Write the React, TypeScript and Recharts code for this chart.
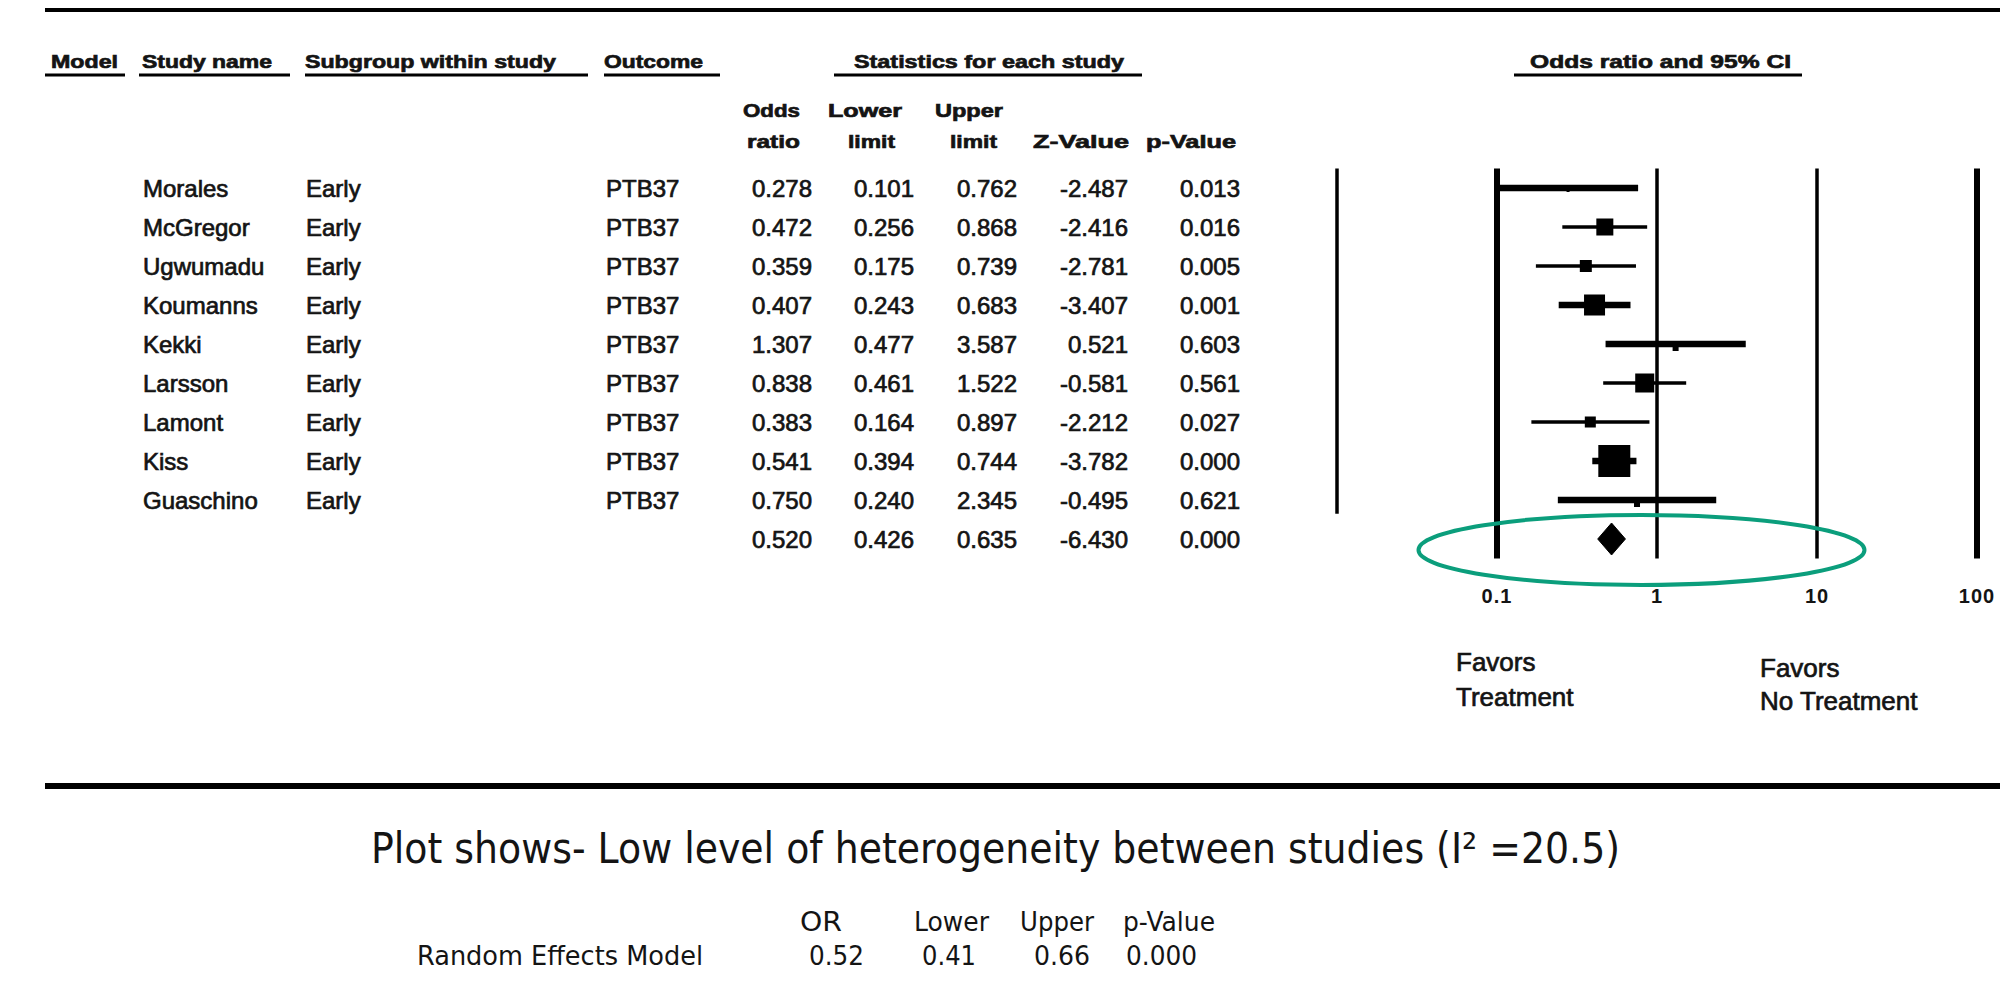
import React from "react";
import { ScatterChart, Scatter, XAxis, YAxis, ReferenceLine, ReferenceDot } from "recharts";

const studyNames = ["Morales", "McGregor", "Ugwumadu", "Koumanns", "Kekki", "Larsson", "Lamont", "Kiss", "Guaschino"];
const subgroups = ["Early", "Early", "Early", "Early", "Early", "Early", "Early", "Early", "Early"];
const outcomes = ["PTB37", "PTB37", "PTB37", "PTB37", "PTB37", "PTB37", "PTB37", "PTB37", "PTB37"];
const oddsRatios = [0.278, 0.472, 0.359, 0.407, 1.307, 0.838, 0.383, 0.541, 0.75];
const lowerLimits = [0.101, 0.256, 0.175, 0.243, 0.477, 0.461, 0.164, 0.394, 0.24];
const upperLimits = [0.762, 0.868, 0.739, 0.683, 3.587, 1.522, 0.897, 0.744, 2.345];
const zValues = [-2.487, -2.416, -2.781, -3.407, 0.521, -0.581, -2.212, -3.782, -0.495];
const pValues = [0.013, 0.016, 0.005, 0.001, 0.603, 0.561, 0.027, 0.0, 0.621];
// box size in px ~ study weight
const boxSizes = [3, 17, 12, 21, 6, 19, 11, 32, 6];
const thickLines = [true, false, false, true, true, false, false, true, true];

const summary = { or: 0.52, lower: 0.426, upper: 0.635, z: -6.43, p: 0.0 };

const axisTicks = [0.1, 1, 10, 100];
const gridLines = [0.01, 0.1, 1, 10, 100];
const gridWidths = [3.5, 6, 3.5, 3.5, 6];

const randomModel = { or: "0.52", lower: "0.41", upper: "0.66", p: "0.000" };

const SANS = "'Liberation Sans', Arial, sans-serif";
const TAHOMA = "'DejaVu Sans', Verdana, sans-serif";
const INK = "#141414";

const rowY = (i: number) => 188 + i * 39 + 8.5;

function Txt({ x, y, w, size = 24, bold = false, anchor = "start", family = SANS, heavy = true, children }: any) {
  return (
    <text
      x={x}
      y={y}
      fontSize={size}
      fontWeight={bold ? 700 : 400}
      fontFamily={family}
      textAnchor={anchor}
      textLength={w}
      lengthAdjust={w ? "spacingAndGlyphs" : undefined}
      fill={INK}
      stroke={heavy ? INK : "none"}
      strokeWidth={heavy ? 0.7 : 0}
    >
      {children}
    </text>
  );
}

const AxisTick = (props: any) => {
  const { x, y, payload } = props;
  return (
    <text x={x} y={y + 44} textAnchor="middle" fontSize={20} fontWeight={700} fontFamily={SANS} letterSpacing={1} fill={INK}>
      {payload.value}
    </text>
  );
};

const boxData = studyNames.map((name, i) => ({ name, x: oddsRatios[i], y: i, box: boxSizes[i] }));
const diamondHalf = 0.41;
const diamondData = [
  { x: summary.lower, y: 9 },
  { x: summary.or, y: 9 - diamondHalf },
  { x: summary.upper, y: 9 },
  { x: summary.or, y: 9 + diamondHalf },
];

const headers = [
  { label: "Model", x: 51, w: 67, ul: [45, 125] },
  { label: "Study name", x: 142, w: 130, ul: [139, 290] },
  { label: "Subgroup within study", x: 305, w: 251, ul: [305, 588] },
  { label: "Outcome", x: 604, w: 99, ul: [604, 720] },
  { label: "Statistics for each study", x: 854, w: 270, ul: [834, 1142] },
  { label: "Odds ratio and 95% CI", x: 1530, w: 261, ul: [1514, 1802] },
];

const subHeaders = [
  { label: "Odds", x: 743, y: 117, w: 57 },
  { label: "ratio", x: 747, y: 148, w: 53 },
  { label: "Lower", x: 828, y: 117, w: 74 },
  { label: "limit", x: 848, y: 148, w: 47 },
  { label: "Upper", x: 935, y: 117, w: 68 },
  { label: "limit", x: 950, y: 148, w: 47 },
  { label: "Z-Value", x: 1033, y: 148, w: 96 },
  { label: "p-Value", x: 1146, y: 148, w: 90 },
];

const numCols = [812, 914, 1017, 1128, 1240];

const StudyBox = (p: any) => {
  const s = p.payload.box;
  // tiny markers sit just under the thick CI line, as in the original output
  const shift = s <= 6 ? s / 2 + 1 : 0;
  return <rect x={p.cx - s / 2} y={p.cy - s / 2 + shift} width={s} height={s} fill="#000" />;
};

export default function App() {
  return (
    <div style={{ position: "absolute", left: 0, top: 0, width: 2000, height: 989, background: "#fff", overflow: "hidden" }}>
      <ScatterChart width={2000} height={989} margin={{ top: 168.5, right: 23, bottom: 390.5, left: 1337 }}>
        <XAxis
          type="number"
          dataKey="x"
          scale="log"
          domain={[0.01, 100]}
          allowDataOverflow
          ticks={axisTicks}
          interval={0}
          axisLine={false}
          tickLine={false}
          tickSize={0}
          tickMargin={0}
          height={40}
          tick={<AxisTick />}
        />
        <YAxis type="number" dataKey="y" domain={[-0.5, 9.5]} reversed hide allowDataOverflow />
        {gridLines.map((g, i) => (
          <ReferenceLine
            key={"g" + g}
            segment={[
              { x: g, y: -0.5 },
              { x: g, y: i === 0 ? 8.35 : 9.5 },
            ]}
            stroke="#000"
            strokeWidth={gridWidths[i]}
            ifOverflow="visible"
          />
        ))}
        {studyNames.map((name, i) => (
          <ReferenceLine
            key={"ci" + name}
            segment={[
              { x: lowerLimits[i], y: i },
              { x: upperLimits[i], y: i },
            ]}
            stroke="#000"
            strokeWidth={thickLines[i] ? 6.5 : 3.5}
            ifOverflow="visible"
          />
        ))}
        <Scatter data={boxData} isAnimationActive={false} shape={StudyBox} />
        <Scatter
          data={diamondData}
          isAnimationActive={false}
          lineType="joint"
          line={(lp: any) => (
            <polygon points={(lp.points || []).map((pt: any) => `${pt.x},${pt.y}`).join(" ")} fill="#000" stroke="#000" strokeWidth={1} />
          )}
          shape={() => <g />}
        />
        <ReferenceDot
          x={0.8}
          y={9.28}
          ifOverflow="visible"
          shape={(p: any) => <ellipse cx={p.cx} cy={p.cy} rx={223} ry={35} fill="none" stroke="#0b9e7c" strokeWidth={4} />}
        />
      </ScatterChart>

      <svg width={2000} height={989} style={{ position: "absolute", left: 0, top: 0, pointerEvents: "none" }}>
        <rect x={45} y={8} width={1955} height={4} fill="#000" />
        <rect x={45} y={783} width={1955} height={6} fill="#000" />

        {headers.map((h) => (
          <g key={h.label}>
            <Txt x={h.x} y={68} w={h.w} size={19} bold>
              {h.label}
            </Txt>
            <line x1={h.ul[0]} x2={h.ul[1]} y1={75} y2={75} stroke="#000" strokeWidth={3} />
          </g>
        ))}
        {subHeaders.map((s, i) => (
          <Txt key={i} x={s.x} y={s.y} w={s.w} size={19} bold>
            {s.label}
          </Txt>
        ))}

        {studyNames.map((name, i) => (
          <g key={name}>
            <Txt x={143} y={rowY(i)}>{name}</Txt>
            <Txt x={306} y={rowY(i)}>{subgroups[i]}</Txt>
            <Txt x={606} y={rowY(i)}>{outcomes[i]}</Txt>
            {[oddsRatios[i], lowerLimits[i], upperLimits[i], zValues[i], pValues[i]].map((v, j) => (
              <Txt key={j} x={numCols[j]} y={rowY(i)} anchor="end">
                {v.toFixed(3)}
              </Txt>
            ))}
          </g>
        ))}
        {[summary.or, summary.lower, summary.upper, summary.z, summary.p].map((v, j) => (
          <Txt key={"s" + j} x={numCols[j]} y={rowY(9)} anchor="end">
            {v.toFixed(3)}
          </Txt>
        ))}

        <Txt x={1456} y={671} size={26}>Favors</Txt>
        <Txt x={1456} y={706} size={26}>Treatment</Txt>
        <Txt x={1760} y={677} size={26}>Favors</Txt>
        <Txt x={1760} y={710} size={26}>No Treatment</Txt>

        <Txt x={371} y={863} w={1249} size={42} family={TAHOMA} heavy={false}>
          Plot shows- Low level of heterogeneity between studies (I² =20.5)
        </Txt>

        <Txt x={800} y={931} w={42} size={26} family={TAHOMA} heavy={false}>OR</Txt>
        <Txt x={914} y={931} w={75} size={26} family={TAHOMA} heavy={false}>Lower</Txt>
        <Txt x={1020} y={931} w={74} size={26} family={TAHOMA} heavy={false}>Upper</Txt>
        <Txt x={1123} y={931} w={92} size={26} family={TAHOMA} heavy={false}>p-Value</Txt>
        <Txt x={417} y={965} w={286} size={26} family={TAHOMA} heavy={false}>Random Effects Model</Txt>
        <Txt x={809} y={965} w={55} size={26} family={TAHOMA} heavy={false}>{randomModel.or}</Txt>
        <Txt x={922} y={965} w={54} size={26} family={TAHOMA} heavy={false}>{randomModel.lower}</Txt>
        <Txt x={1034} y={965} w={56} size={26} family={TAHOMA} heavy={false}>{randomModel.upper}</Txt>
        <Txt x={1126} y={965} w={71} size={26} family={TAHOMA} heavy={false}>{randomModel.p}</Txt>
      </svg>
    </div>
  );
}
